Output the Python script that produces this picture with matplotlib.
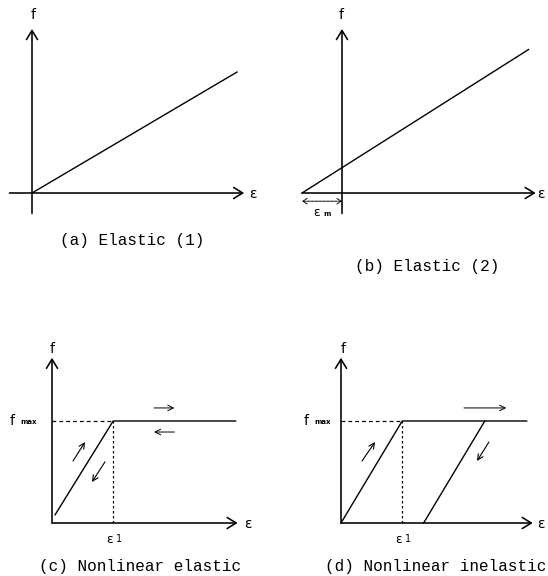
import matplotlib
matplotlib.use("Agg")
import matplotlib.pyplot as plt

W, H = 548, 576
DPI = 100

# ---- curve data (strain units, force units) ----
a_eps = [0.0, 10.0]
a_f = [0.0, 5.9]

b_eps_m = -1.95
b_eps = [b_eps_m, 9.1]
b_f = [0.0, 7.0]

eps1 = 3.0
f_max = 5.0
c_eps = [0.15, eps1, 9.0]
c_f = [0.4, f_max, f_max]

d_eps = [0.0, eps1, 9.1]
d_f = [0.0, f_max, f_max]
d_unload_eps = [7.05, 4.05]
d_unload_f = [f_max, 0.0]

captions = ["(a) Elastic (1)", "(b) Elastic (2)",
            "(c) Nonlinear elastic", "(d) Nonlinear inelastic"]

MONO = "Liberation Mono"
LBL = "DejaVu Sans"

fig = plt.figure(figsize=(W / DPI, H / DPI), dpi=DPI)
fig.patch.set_facecolor("white")


def panel(origin, s, xlim, ylim):
    ox, oy = origin
    left = ox + xlim[0] * s
    width = (xlim[1] - xlim[0]) * s
    top = oy - ylim[1] * s
    height = (ylim[1] - ylim[0]) * s
    ax = fig.add_axes([left / W, 1 - (top + height) / H, width / W, height / H])
    ax.set_xlim(*xlim)
    ax.set_ylim(*ylim)
    ax.axis("off")
    return ax


def arrow(ax, start, end, lw=1.15, hl=0.65, hw=0.4, ms=10):
    ax.annotate("", xy=end, xytext=start,
                arrowprops=dict(arrowstyle=f"->,head_length={hl},head_width={hw}",
                                lw=lw, color="black", shrinkA=0, shrinkB=0,
                                mutation_scale=ms),
                annotation_clip=False)


def axes_arrows(ax, x0, x1, y0, y1):
    arrow(ax, (x0, 0), (x1, 0))
    arrow(ax, (0, y0), (0, y1))


# (a) Elastic (1)
ax = panel((32, 193), 20.5, (-1.5, 11.5), (-1.5, 9.5))
axes_arrows(ax, -1.1, 10.35, -1.0, 8.0)
ax.plot(a_eps, a_f, color="black", lw=1.0)
ax.text(0.05, 8.7, "f", family=LBL, fontsize=10, ha="center", va="center")
ax.text(10.75, -0.05, "ε", family=LBL, fontsize=10, ha="center", va="center")

# (b) Elastic (2)
ax = panel((342, 193), 20.5, (-2.5, 10.3), (-1.5, 9.5))
axes_arrows(ax, b_eps_m, 9.45, -1.0, 8.0)
ax.plot(b_eps, b_f, color="black", lw=1.0)
ax.annotate("", xy=(b_eps_m, -0.4), xytext=(0, -0.4),
            arrowprops=dict(arrowstyle="<->,head_length=0.3,head_width=0.2",
                            lw=0.7, color="black", shrinkA=0, shrinkB=0,
                            linestyle=(0, (3, 1))))
ax.text(-1.25, -0.95, "ε", family=LBL, fontsize=9, ha="center", va="center")
ax.text(-0.75, -1.0, "m", family=LBL, fontsize=5, weight="bold",
        ha="center", va="center")
ax.text(-0.05, 8.7, "f", family=LBL, fontsize=10, ha="center", va="center")
ax.text(9.7, -0.05, "ε", family=LBL, fontsize=10, ha="center", va="center")

# (c) Nonlinear elastic
ax = panel((52, 523), 20.4, (-2.5, 10.0), (-1.5, 9.0))
axes_arrows(ax, 0, 9.1, 0, 8.1)
ax.plot(c_eps, c_f, color="black", lw=1.0)
ax.plot([0, eps1], [f_max, f_max], color="black", lw=0.9, ls=(0, (3, 2.5)))
ax.plot([eps1, eps1], [0, f_max], color="black", lw=0.9, ls=(0, (2, 2)))
arrow(ax, (5.0, 5.64), (6.0, 5.64), lw=0.7, hl=0.4, hw=0.2)
arrow(ax, (6.0, 4.46), (5.0, 4.46), lw=0.7, hl=0.4, hw=0.2)
arrow(ax, (1.03, 3.04), (1.62, 3.97), lw=0.8, hl=0.4, hw=0.2)
arrow(ax, (2.6, 3.0), (1.96, 2.01), lw=0.8, hl=0.4, hw=0.2)
ax.text(0.0, 8.55, "f", family=LBL, fontsize=10, ha="center", va="center")
ax.text(-1.95, f_max, "f", family=LBL, fontsize=10, ha="center", va="center")
ax.text(-1.15, f_max - 0.05, "max", family=LBL, fontsize=5, weight="bold",
        ha="center", va="center")
ax.text(eps1 - 0.2, -0.8, "ε", family=LBL, fontsize=9, ha="center", va="center")
ax.text(eps1 + 0.3, -0.8, "1", family=LBL, fontsize=7, ha="center", va="center")
ax.text(9.6, -0.05, "ε", family=LBL, fontsize=10, ha="center", va="center")

# (d) Nonlinear inelastic
ax = panel((341, 523), 20.4, (-2.5, 10.3), (-1.5, 9.0))
axes_arrows(ax, 0, 9.4, 0, 8.1)
ax.plot(d_eps, d_f, color="black", lw=1.0)
ax.plot(d_unload_eps, d_unload_f, color="black", lw=1.0)
ax.plot([0, eps1], [f_max, f_max], color="black", lw=0.9, ls=(0, (3, 2.5)))
ax.plot([eps1, eps1], [0, f_max], color="black", lw=0.9, ls=(0, (2, 2)))
arrow(ax, (6.03, 5.64), (8.1, 5.64), lw=0.7, hl=0.4, hw=0.2)
arrow(ax, (1.03, 3.04), (1.67, 3.97), lw=0.8, hl=0.4, hw=0.2)
arrow(ax, (7.25, 3.97), (6.67, 3.04), lw=0.8, hl=0.4, hw=0.2)
ax.text(0.1, 8.55, "f", family=LBL, fontsize=10, ha="center", va="center")
ax.text(-1.7, f_max, "f", family=LBL, fontsize=10, ha="center", va="center")
ax.text(-0.9, f_max - 0.05, "max", family=LBL, fontsize=5, weight="bold",
        ha="center", va="center")
ax.text(eps1 - 0.2, -0.8, "ε", family=LBL, fontsize=9, ha="center", va="center")
ax.text(eps1 + 0.3, -0.8, "1", family=LBL, fontsize=7, ha="center", va="center")
ax.text(9.8, -0.05, "ε", family=LBL, fontsize=10, ha="center", va="center")

# captions
cap_pos = [(132, 241), (427, 266), (140, 566), (436, 566)]
for (cx, cy), txt in zip(cap_pos, captions):
    fig.text(cx / W, 1 - cy / H, txt, family=MONO, fontsize=11.5,
             ha="center", va="center")

fig.savefig("out.png", dpi=DPI, facecolor="white")
